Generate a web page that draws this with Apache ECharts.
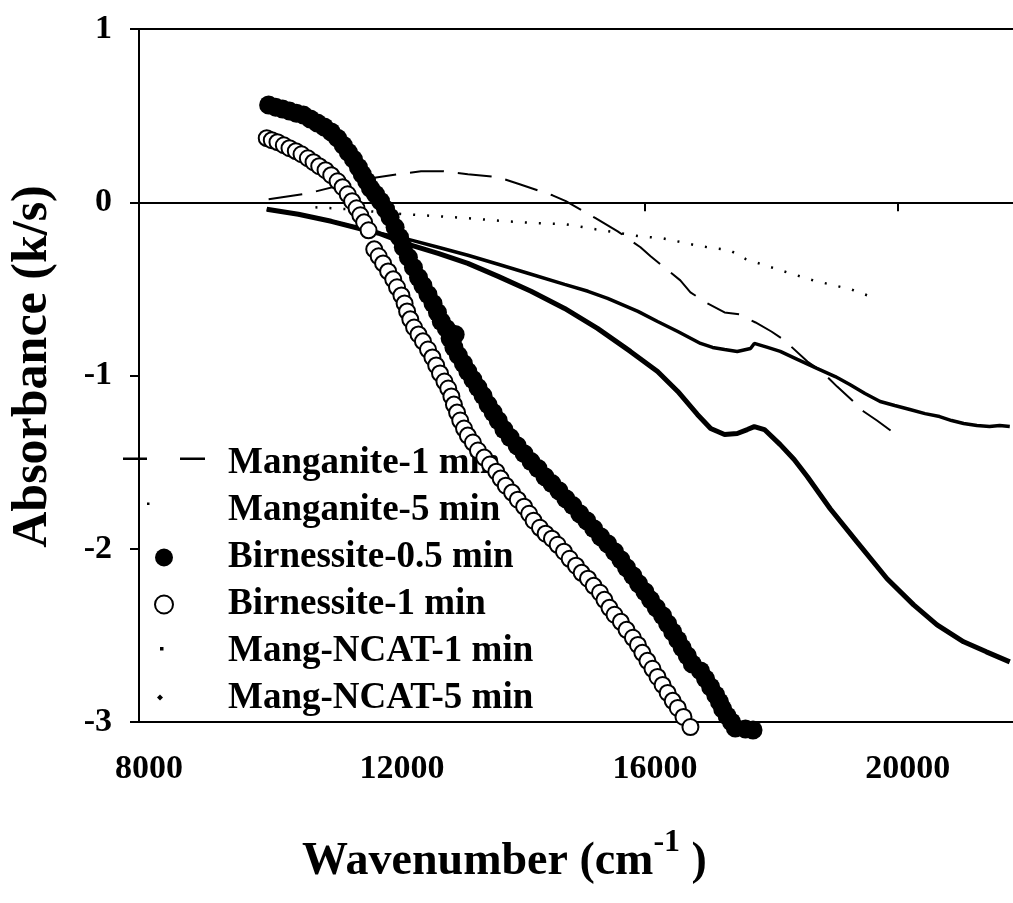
<!DOCTYPE html>
<html>
<head>
<meta charset="utf-8">
<script src="https://cdn.jsdelivr.net/npm/echarts@6/dist/echarts.min.js"></script>
<style>html,body{margin:0;padding:0;background:#fff}#chart{width:1013px;height:903px}</style>
</head>
<body>
<div id="chart"></div>
<script>
// ---- data (wavenumber cm-1, absorbance k/s) ----
const seriesNames = ['Manganite-1 min','Manganite-5 min','Birnessite-0.5 min','Birnessite-1 min','Mang-NCAT-1 min','Mang-NCAT-5 min'];
const xTickValues = [8000, 12000, 16000, 20000];
const yTickValues = [1, 0, -1, -2, -3];

const manganite1 = [[10050,0.017],[10680,0.052],[11310,0.110],[11670,0.139],[12100,0.162],[12460,0.179],[12810,0.179],[13200,0.162],[13680,0.145],[14020,0.104],[14540,0.040],[14750,0.006],[15220,-0.092],[15570,-0.168],[15930,-0.260],[16090,-0.312],[16560,-0.451],[16720,-0.520],[16990,-0.584],[17260,-0.636],[17490,-0.647],[17750,-0.694],[18000,-0.746],[18190,-0.792],[18570,-0.919],[18800,-0.977],[19040,-1.064],[19280,-1.144],[19460,-1.208],[19670,-1.260],[19910,-1.324]];

const manganite5 = [[10790,-0.029],[11310,-0.040],[11990,-0.064],[12730,-0.081],[13200,-0.092],[13800,-0.110],[14310,-0.121],[14750,-0.127],[15220,-0.156],[15930,-0.197],[16280,-0.208],[16880,-0.254],[17340,-0.277],[17600,-0.329],[18200,-0.399],[18660,-0.451],[19260,-0.503],[19560,-0.543]];

const birnessite05 = [[10050,0.561],[10160,0.549],[10270,0.538],[10380,0.526],[10490,0.514],[10600,0.503],[10710,0.480],[10820,0.457],[10930,0.434],[11040,0.405],[11140,0.370],[11230,0.329],[11310,0.289],[11390,0.249],[11470,0.202],[11530,0.162],[11600,0.121],[11660,0.081],[11740,0.046],[11820,0.006],[11900,-0.040],[11970,-0.087],[12050,-0.145],[12120,-0.202],[12180,-0.260],[12260,-0.318],[12340,-0.376],[12420,-0.434],[12490,-0.480],[12570,-0.532],[12650,-0.584],[12720,-0.636],[12780,-0.688],[12860,-0.728],[13000,-0.763],[12920,-0.786],[12980,-0.838],[13050,-0.884],[13130,-0.931],[13200,-0.977],[13280,-1.023],[13360,-1.069],[13440,-1.116],[13520,-1.168],[13600,-1.214],[13680,-1.260],[13770,-1.312],[13870,-1.358],[13980,-1.405],[14090,-1.451],[14200,-1.497],[14310,-1.537],[14420,-1.584],[14530,-1.624],[14640,-1.665],[14750,-1.711],[14860,-1.751],[14970,-1.798],[15080,-1.838],[15190,-1.884],[15300,-1.931],[15410,-1.971],[15520,-2.017],[15620,-2.063],[15710,-2.110],[15810,-2.156],[15900,-2.202],[16000,-2.248],[16090,-2.295],[16180,-2.341],[16280,-2.387],[16360,-2.433],[16440,-2.480],[16520,-2.526],[16590,-2.572],[16670,-2.618],[16750,-2.665],[16880,-2.705],[16960,-2.751],[17040,-2.798],[17120,-2.844],[17180,-2.884],[17230,-2.925],[17300,-2.965],[17370,-3.000],[17430,-3.035],[17590,-3.040],[17710,-3.046]];

const birnessite1 = [[10020,0.370],[10100,0.358],[10190,0.347],[10290,0.329],[10380,0.312],[10480,0.295],[10570,0.277],[10670,0.254],[10760,0.231],[10850,0.208],[10950,0.185],[11040,0.156],[11140,0.121],[11220,0.087],[11300,0.046],[11370,0.006],[11440,-0.035],[11500,-0.075],[11560,-0.116],[11630,-0.162],[11720,-0.272],[11790,-0.312],[11860,-0.353],[11940,-0.399],[12020,-0.445],[12080,-0.491],[12150,-0.538],[12200,-0.584],[12240,-0.630],[12290,-0.676],[12350,-0.723],[12420,-0.763],[12490,-0.803],[12570,-0.850],[12640,-0.896],[12700,-0.942],[12760,-0.988],[12830,-1.035],[12890,-1.075],[12940,-1.121],[12980,-1.168],[13030,-1.214],[13080,-1.260],[13140,-1.306],[13200,-1.347],[13280,-1.387],[13360,-1.433],[13460,-1.474],[13550,-1.514],[13650,-1.555],[13720,-1.595],[13800,-1.636],[13900,-1.676],[13990,-1.717],[14090,-1.757],[14170,-1.798],[14240,-1.838],[14340,-1.879],[14430,-1.913],[14530,-1.942],[14620,-1.977],[14720,-2.017],[14810,-2.058],[14910,-2.098],[15000,-2.139],[15100,-2.173],[15190,-2.214],[15290,-2.254],[15360,-2.295],[15440,-2.341],[15520,-2.381],[15620,-2.422],[15710,-2.468],[15810,-2.514],[15890,-2.555],[15960,-2.601],[16040,-2.647],[16120,-2.693],[16200,-2.740],[16280,-2.786],[16360,-2.832],[16440,-2.878],[16520,-2.919],[16610,-2.971],[16720,-3.029]];

const ncat1 = [[10020,-0.040],[10520,-0.069],[11040,-0.110],[11470,-0.150],[11790,-0.179],[12260,-0.214],[12730,-0.260],[13200,-0.306],[13680,-0.358],[14150,-0.410],[14730,-0.474],[15100,-0.514],[15410,-0.555],[15890,-0.630],[16200,-0.688],[16520,-0.746],[16880,-0.815],[17070,-0.838],[17260,-0.850],[17460,-0.861],[17670,-0.844],[17730,-0.815],[17940,-0.838],[18140,-0.861],[18410,-0.907],[18720,-0.959],[19010,-1.006],[19240,-1.052],[19480,-1.104],[19720,-1.150],[19950,-1.173],[20190,-1.196],[20430,-1.220],[20660,-1.237],[20850,-1.260],[21040,-1.277],[21250,-1.289],[21450,-1.295],[21610,-1.289],[21770,-1.295]];

const ncat5 = [[10020,-0.040],[10520,-0.069],[11040,-0.110],[11470,-0.150],[11790,-0.179],[12260,-0.243],[12730,-0.295],[13200,-0.353],[13680,-0.428],[14200,-0.514],[14730,-0.613],[15250,-0.728],[15770,-0.861],[16200,-0.977],[16520,-1.092],[16830,-1.225],[17040,-1.306],[17260,-1.341],[17460,-1.335],[17620,-1.312],[17730,-1.295],[17890,-1.312],[18140,-1.399],[18360,-1.485],[18570,-1.584],[18930,-1.769],[19350,-1.959],[19830,-2.173],[20250,-2.324],[20620,-2.439],[21040,-2.537],[21400,-2.595],[21770,-2.653]];

// ---- chart ----
const FONT = "'Liberation Serif', 'Times New Roman', serif";
const chart = echarts.init(document.getElementById('chart'), null, {renderer: 'canvas'});

const option = {
  animation: false,
  backgroundColor: '#fff',
  grid: {left: 139, top: 29, width: 879, height: 693, show: true, borderColor: '#000', borderWidth: 2,
    containLabel: false, outerBoundsMode: 'none'},
  xAxis: {
    type: 'value', min: 8000, max: 21900, interval: 4000,
    axisLine: {show: true, lineStyle: {color: '#000', width: 2}},
    axisTick: {show: true, inside: false, length: 9, lineStyle: {color: '#000', width: 2}},
    splitLine: {show: false},
    axisLabel: {
      showMaxLabel: false, margin: 30, color: '#000', fontFamily: FONT, fontWeight: 'bold', fontSize: 34,
      padding: [0, 0, 0, 20],
      formatter: v => xTickValues.indexOf(v) >= 0 ? String(v) : ''
    },
    name: '{a|Wavenumber (cm}{s|-1}{a| )}',
    nameLocation: 'middle', nameGap: 105,
    nameTextStyle: {
      padding: [0, 148, 0, 0],
      rich: {
        a: {fontFamily: FONT, fontWeight: 'bold', fontSize: 46, lineHeight: 70, color: '#000'},
        s: {fontFamily: FONT, fontWeight: 'bold', fontSize: 32, lineHeight: 32, verticalAlign: 'top', color: '#000'}
      }
    }
  },
  yAxis: {
    type: 'value', min: -3, max: 1, interval: 1,
    axisLine: {show: true, lineStyle: {color: '#000', width: 2}},
    axisTick: {show: true, inside: false, length: 9, lineStyle: {color: '#000', width: 2}},
    splitLine: {show: false},
    axisLabel: {margin: 27, color: '#000', fontFamily: FONT, fontWeight: 'bold', fontSize: 34,
      formatter: v => yTickValues.indexOf(v) >= 0 ? String(v) : ''},
    name: 'Absorbance (k/s)', nameLocation: 'middle', nameGap: 81,
    nameTextStyle: {fontFamily: FONT, fontWeight: 'bold', fontSize: 50, color: '#000', padding: [0, 0, 0, 18]}
  },
  legend: {
    orient: 'vertical', left: 123, top: 440, padding: 0, z: 1,
    itemWidth: 82, itemHeight: 18, itemGap: 0, selectedMode: false,
    textStyle: {fontFamily: FONT, fontWeight: 'bold', fontSize: 37, color: '#000', lineHeight: 47, padding: [0, 0, 0, 18]},
    data: [
      {name: seriesNames[0], icon: 'path://M0,0L0,0M82,18L82,18M0,3L24,3L24,5.5L0,5.5ZM57,3L82,3L82,5.5L57,5.5Z', itemStyle: {color: '#000', borderWidth: 0}},
      {name: seriesNames[1], icon: 'path://M0,0L0,0M82,18L82,18M24,1L26.5,1L26.5,3.5L24,3.5Z', itemStyle: {color: '#000', borderWidth: 0}},
      {name: seriesNames[2], icon: 'circle', itemStyle: {color: '#000', borderWidth: 0, opacity: 1}},
      {name: seriesNames[3], icon: 'circle', itemStyle: {color: '#fff', borderColor: '#000', borderWidth: 2, opacity: 1}},
      {name: seriesNames[4], icon: 'path://M0,0L0,0M82,18L82,18M37,4.5L40.5,4.5L40.5,8L37,8Z', itemStyle: {color: '#000', borderWidth: 0}},
      {name: seriesNames[5], icon: 'path://M0,0L0,0M82,18L82,18M37,5L40,8L37,11L34,8Z', itemStyle: {color: '#000', borderWidth: 0}}
    ]
  },
  series: [
    {name: seriesNames[0], type: 'line', data: manganite1, symbol: 'none', z: 2,
      lineStyle: {color: '#000', width: 2, type: [34, 14]}},
    {name: seriesNames[1], type: 'line', data: manganite5, symbol: 'none', z: 2,
      lineStyle: {color: '#000', width: 2.5, type: [2, 12]}},
    {name: seriesNames[4], type: 'line', data: ncat1, symbol: 'none', z: 2,
      lineStyle: {color: '#000', width: 3.5}},
    {name: seriesNames[5], type: 'line', data: ncat5, symbol: 'none', z: 2,
      lineStyle: {color: '#000', width: 5}},
    {name: seriesNames[2], type: 'scatter', data: birnessite05, symbol: 'circle', symbolSize: 19, clip: false, z: 3,
      itemStyle: {color: '#000', borderWidth: 0, opacity: 1}},
    {name: seriesNames[3], type: 'scatter', data: birnessite1, symbol: 'circle', symbolSize: 16, clip: false, z: 4,
      itemStyle: {color: '#fff', borderColor: '#000', borderWidth: 2, opacity: 1}}
  ]
};
chart.setOption(option);
</script>
</body>
</html>
